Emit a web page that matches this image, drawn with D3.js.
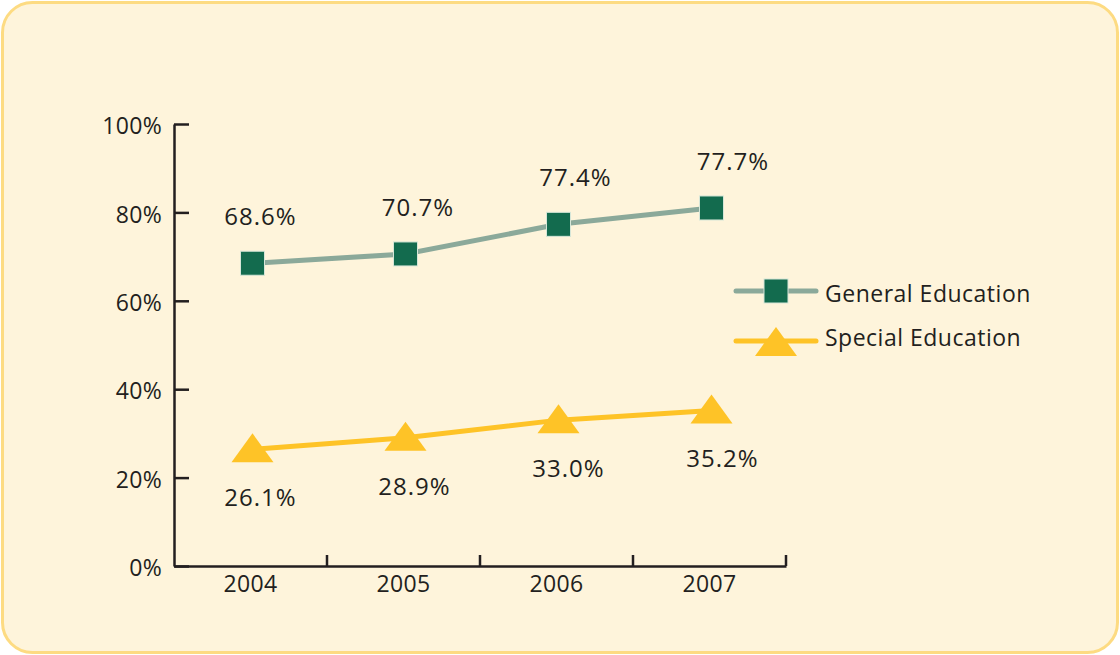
<!DOCTYPE html>
<html>
<head>
<meta charset="utf-8">
<script src="https://cdn.jsdelivr.net/npm/d3@7"></script>
<style>
	body{margin:0;background:#fff;}
	svg text{font-family:"Open Sans","Noto Sans",sans-serif;fill:#231f20;}
</style>
</head>
<body>
<div id="chart"></div>
<script>
// data
var years=["2004","2005","2006","2007"];
var yTicks=[0,20,40,60,80,100];
var seriesNames=["General Education","Special Education"];
// the 2007 general marker sits near 81% in the source, higher than its 77.7% label
var generalValues=[68.5,70.6,77.3,81.0];
var generalLabels=["68.6%","70.7%","77.4%","77.7%"];
var specialValues=[26.4,29.0,33.0,35.2];
var specialLabels=["26.1%","28.9%","33.0%","35.2%"];

(function(){
	var width=1120,height=655;
	var green="#136b4e",greenLine="#8ba99a",yellow="#fec327",axisColor="#231f20";

	var svg=d3.select("#chart").append("svg")
			.attr("width",width)
			.attr("height",height);

	svg.append("rect")
		.attr("x",2.5).attr("y",2.5)
		.attr("width",width-5).attr("height",height-5)
		.attr("rx",30).attr("ry",30)
		.attr("fill","#fef4db")
		.attr("stroke","#fddb82")
		.attr("stroke-width",3);

	var x=d3.scaleBand().domain(years).range([174,786]);
	var y=d3.scaleLinear().domain([0,100]).range([566,124]);
	var cx=function(d){return x(d)+x.bandwidth()/2+2;};

	// y axis, ticks pointing inward
	var yAxis=svg.append("g")
		.attr("transform","translate(174,0)")
		.call(d3.axisLeft(y).tickValues(yTicks).tickSize(-15).tickSizeOuter(0).tickPadding(12)
			.tickFormat(function(d){return d+"%";}));
	yAxis.selectAll("text").attr("dy","0.42em").style("font-size","23px").style("letter-spacing","0.3px");

	// x axis, labels under band centres, ticks on band edges
	var xAxis=svg.append("g")
		.attr("transform","translate(0,566)")
		.call(d3.axisBottom(x).tickSize(0).tickSizeOuter(0).tickPadding(10));
	xAxis.selectAll("text").style("font-size","23px").style("letter-spacing","0.3px");
	xAxis.selectAll(".edge")
		.data(years)
		.enter()
		.append("line")
		.attr("class","edge")
		.attr("x1",function(d){return x(d)+x.bandwidth();})
		.attr("x2",function(d){return x(d)+x.bandwidth();})
		.attr("y1",0).attr("y2",-11);
	svg.selectAll(".domain,.tick line,.edge")
		.attr("stroke",axisColor)
		.attr("stroke-width",2.5);
	svg.selectAll(".tick text").attr("fill",axisColor);

	var line=d3.line()
		.x(function(d,i){return cx(years[i]);})
		.y(function(d){return y(d);});

	svg.append("path")
		.datum(generalValues)
		.attr("d",line)
		.attr("fill","none")
		.attr("stroke",greenLine)
		.attr("stroke-width",5);
	svg.append("path")
		.datum(specialValues)
		.attr("d",line)
		.attr("fill","none")
		.attr("stroke",yellow)
		.attr("stroke-width",5);

	var tri=function(px,py){
		return "M"+px+","+(py-16)+"L"+(px+21)+","+(py+13)+"L"+(px-21)+","+(py+13)+"Z";
	};

	svg.append("g")
		.selectAll("rect")
		.data(generalValues)
		.enter()
		.append("rect")
		.attr("x",function(d,i){return cx(years[i])-12;})
		.attr("y",function(d){return y(d)-12;})
		.attr("width",24).attr("height",24)
		.attr("fill",green)
		.attr("stroke","#d6e6d8")
		.attr("stroke-width",1);

	svg.append("g")
		.selectAll("path")
		.data(specialValues)
		.enter()
		.append("path")
		.attr("d",function(d,i){return tri(cx(years[i]),y(d));})
		.attr("fill",yellow);

	svg.append("g")
		.selectAll("text")
		.data(generalLabels)
		.enter()
		.append("text")
		.attr("x",function(d,i){return cx(years[i])+8+i*4.5;})
		.attr("y",function(d,i){return y(generalValues[i])-38;})
		.attr("text-anchor","middle")
		.style("font-size","24px")
		.style("letter-spacing","1px")
		.text(function(d){return d;});

	svg.append("g")
		.selectAll("text")
		.data(specialLabels)
		.enter()
		.append("text")
		.attr("x",function(d,i){return cx(years[i])+8+i*1;})
		.attr("y",function(d,i){return y(specialValues[i])+57;})
		.attr("text-anchor","middle")
		.style("font-size","24px")
		.style("letter-spacing","1px")
		.text(function(d){return d;});

	// legend
	var legend=svg.append("g").attr("transform","translate(736,291)");
	var leg=legend.selectAll("g")
		.data(seriesNames)
		.enter()
		.append("g")
		.attr("transform",function(d,i){return "translate(0,"+(i*50)+")";});
	leg.append("line")
		.attr("x1",0).attr("x2",80)
		.attr("stroke",function(d,i){return i==0?greenLine:yellow;})
		.attr("stroke-width",5)
		.attr("stroke-linecap","round");
	leg.filter(function(d,i){return i==0;})
		.append("rect")
		.attr("x",28).attr("y",-12)
		.attr("width",24).attr("height",24)
		.attr("fill",green)
		.attr("stroke","#d6e6d8")
		.attr("stroke-width",1);
	leg.filter(function(d,i){return i==1;})
		.append("path")
		.attr("d",tri(40,2))
		.attr("fill",yellow);
	leg.append("text")
		.attr("x",89)
		.attr("y",function(d,i){return i==0?11:5;})
		.style("font-size","23px")
		.style("letter-spacing","0.5px")
		.text(function(d){return d;});
})();
</script>
</body>
</html>
